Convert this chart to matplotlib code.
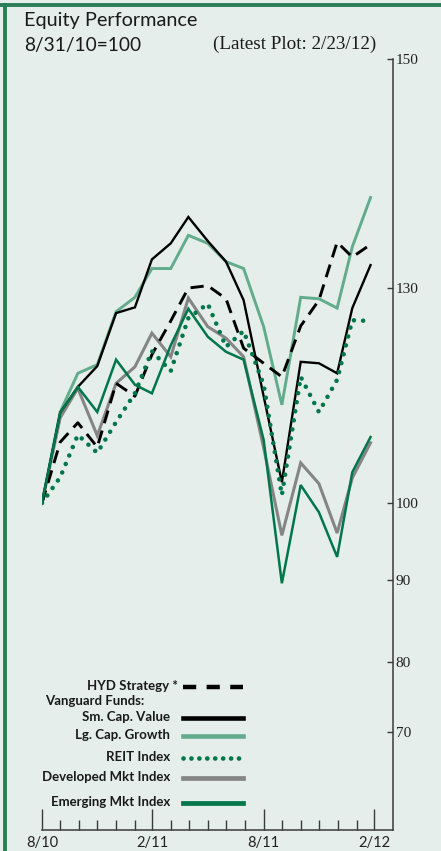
import numpy as np
import pandas as pd
import matplotlib
matplotlib.use('Agg')
import matplotlib.pyplot as plt
from matplotlib.lines import Line2D

# month-end index levels, 8/31/10 = 100
dates = pd.to_datetime([
    '2010-08-31', '2010-09-30', '2010-10-29', '2010-11-30', '2010-12-31',
    '2011-01-31', '2011-02-28', '2011-03-31', '2011-04-29', '2011-05-31',
    '2011-06-30', '2011-07-29', '2011-08-31', '2011-09-30', '2011-10-31',
    '2011-11-30', '2011-12-30', '2012-01-24', '2012-02-23'])

hyd_strategy = [100, 108.5, 111.2, 107.8, 116.7, 114.9, 120.7, 125.4, 130.0, 130.2,
                128.5, 121.6, 119.5, 117.6, 124.7, 128.3, 134.0, 132.7, 133.8]
sm_cap_value = [100, 112.6, 116.2, 119.1, 126.5, 127.3, 132.5, 133.9, 136.2, 134.1,
                132.3, 128.3, 114.9, 102.9, 119.7, 119.5, 118.1, 127.2, 132.0]
lg_cap_growth = [100, 112.7, 118.1, 119.3, 126.7, 128.7, 131.7, 131.7, 134.6, 133.9,
                 132.3, 131.7, 124.6, 113.7, 128.7, 128.5, 127.2, 133.6, 137.9]
reit_index = [100, 103.6, 109.5, 107.0, 111.3, 115.3, 121.2, 118.4, 125.8, 127.8,
              121.8, 124.0, 116.5, 101.1, 117.6, 112.7, 117.2, 125.5, 125.4]
developed_mkt = [100, 111.9, 116.0, 109.4, 116.7, 119.0, 123.7, 120.4, 128.6, 124.6,
                 123.0, 120.4, 107.7, 95.8, 105.6, 102.7, 96.1, 103.5, 108.4]
emerging_mkt = [100, 112.6, 116.2, 112.7, 120.0, 116.5, 115.3, 122.0, 127.1, 123.2,
                121.1, 120.0, 108.8, 89.6, 102.5, 98.8, 93.0, 104.3, 109.2]

y_ticks = [70, 80, 90, 100, 130, 150]
x_major = pd.to_datetime(['2010-08-31', '2011-02-28', '2011-08-31', '2012-02-29'])
x_major_labels = ['8/10', '2/11', '8/11', '2/12']

# the value axis is not evenly spaced: piecewise scale through the labelled levels
scale_vals = [56, 70, 80, 90, 100, 130, 150]
scale_pos = [0, 98, 168, 250, 327, 542, 771]


def fwd(v):
    return np.interp(v, scale_vals, scale_pos)


def inv(p):
    return np.interp(p, scale_pos, scale_vals)


bg = '#e5eeea'
frame_green = '#2b7d57'
light_green = '#62ab8c'
dark_green = '#00764a'
gray = '#858585'

plt.rcParams['lines.scale_dashes'] = False
plt.rcParams['font.family'] = ['Lato', 'DejaVu Sans']

W, H = 441, 851
fig = plt.figure(figsize=(W / 100, H / 100), dpi=100, facecolor=bg)


def px(x, y):
    return x / W, 1 - y / H


ax = fig.add_axes([42 / W, 21 / H, 351 / W, 771 / H])
ax.set_facecolor(bg)
ax.set_yscale('function', functions=(fwd, inv))
ax.set_ylim(56, 150)
ax.set_xlim(pd.Timestamp('2010-08-31'), pd.Timestamp('2012-03-31'))

ax.plot(dates, developed_mkt, color=gray, lw=2.2, solid_joinstyle='miter')
ax.plot(dates, lg_cap_growth, color=light_green, lw=2.1, solid_joinstyle='miter')
ax.plot(dates, sm_cap_value, color='black', lw=1.7, solid_joinstyle='miter')
ax.plot(dates, hyd_strategy, color='black', lw=2.1, linestyle=(0, (9.5, 5.5)))
ax.plot(dates, emerging_mkt, color=dark_green, lw=1.8, solid_joinstyle='miter')
ax.plot(dates, reit_index, color=dark_green, lw=3.3, linestyle=(0, (0.01, 6.6)),
        dash_capstyle='round')

# axes frame: only bottom and right
for side in ['left', 'top']:
    ax.spines[side].set_visible(False)
for side in ['bottom', 'right']:
    ax.spines[side].set_color('#3a3a3a')
    ax.spines[side].set_linewidth(1.1)

ax.yaxis.tick_right()
ax.set_yticks(y_ticks)
ax.set_yticklabels([str(v) for v in y_ticks], family=['Liberation Serif'], fontsize=11,
                   color='#222222')
ax.yaxis.set_minor_locator(matplotlib.ticker.NullLocator())
ax.tick_params(axis='y', direction='in', length=4.5, width=1.0, pad=2, color='#3a3a3a')

minor = pd.date_range('2010-08-31', periods=18, freq=pd.offsets.MonthEnd())
minor = [d for d in minor if d not in set(x_major)]
ax.set_xticks(x_major)
ax.set_xticklabels(x_major_labels, fontsize=10.5, color='#222222')
ax.set_xticks(minor, minor=True)
ax.tick_params(axis='x', which='major', direction='in', length=15, width=1.0, pad=4,
               color='#3a3a3a')
ax.tick_params(axis='x', which='minor', direction='in', length=7.5, width=1.0,
               color='#3a3a3a')

# headings
fig.text(*px(24, 26), 'Equity Performance', fontsize=14.3, color='#1a1a1a', va='baseline')
fig.text(*px(24, 51), '8/31/10=100', fontsize=13.8, color='#1a1a1a', va='baseline')
fig.text(*px(213, 49), '(Latest Plot: 2/23/12)', fontsize=13.8,
         family=['Liberation Serif'], color='#1a1a1a', va='baseline')

# legend, labels right-aligned to the left of each sample line
leg_items = [
    ('HYD Strategy *', 686, dict(color='black', lw=3.2, linestyle=(0, (9.5, 7.5)))),
    ('Sm. Cap. Value', 717, dict(color='black', lw=3.3)),
    ('Lg. Cap. Growth', 735, dict(color=light_green, lw=3.3)),
    ('REIT Index', 757, dict(color=dark_green, lw=3.4, linestyle=(0, (0.01, 5.7)),
                             dash_capstyle='round')),
    ('Developed Mkt Index', 777, dict(color=gray, lw=3.4)),
    ('Emerging Mkt Index', 802, dict(color=dark_green, lw=3.4)),
]
for label, y, style in leg_items:
    right = 178 if label.endswith('*') else 170
    fig.text(*px(right, y), label, fontsize=9.5, fontweight='bold', color='#1a1a1a',
             ha='right', va='center')
    x0, y0 = px(183, y + 1)
    x1, _ = px(243, y + 1)
    fig.add_artist(Line2D([x0, x1], [y0, y0], transform=fig.transFigure, **style))
fig.text(*px(45, 701), 'Vanguard Funds:', fontsize=9.5, fontweight='bold', color='#1a1a1a',
         ha='left', va='center')

# green frame on top and left edges
fig.add_artist(Line2D([0, 1], [1 - 5 / H, 1 - 5 / H], transform=fig.transFigure,
                      color=frame_green, lw=2.8))
fig.add_artist(Line2D([4.5 / W, 4.5 / W], [0, 1 - 5 / H], transform=fig.transFigure,
                      color=frame_green, lw=2.8))

fig.savefig('out.png', dpi=100, facecolor=bg)
